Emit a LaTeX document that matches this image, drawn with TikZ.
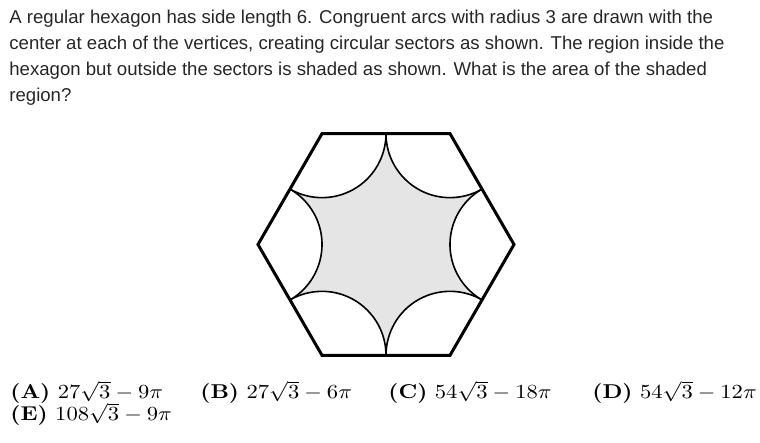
\documentclass[tikz,border=0pt]{standalone}
\usepackage{fontspec}
\newfontfamily\qfont{Liberation Sans}
\tikzset{
  qline/.style={anchor=base west, inner sep=0pt, font=\qfont\fontsize{9.3}{12}\selectfont, text=black!85},
  choice/.style={anchor=base west, inner sep=0pt, font=\fontsize{10}{12}\selectfont},
  hexline/.style={line width=1.5pt, line join=miter},
  arcline/.style={line width=0.8pt},
}
\newcommand{\wide}[1]{\scalebox{1.13}[1]{#1}}
\begin{document}
\begin{tikzpicture}[x=0.5pt,y=0.5pt]
\useasboundingbox (0,0) rectangle (760,443);

% question text
\node[qline] (q1) at (9,419) {A regular hexagon has side length 6. Congruent arcs with radius 3 are drawn with the};
\node[qline] (q2) at (9,393) {center at each of the vertices, creating circular sectors as shown. The region inside the};
\node[qline] (q3) at (9,367) {hexagon but outside the sectors is shaded as shown. What is the area of the shaded};
\node[qline] (q4) at (9,341) {region?};

% hexagon
\coordinate (O) at (386,198.5);
\foreach \i in {0,...,5}
  \coordinate (V\i) at ([shift={(O)}]60*\i:128);

\fill[black!10] (V0) -- (V1) -- (V2) -- (V3) -- (V4) -- (V5) -- cycle;
\foreach \i in {0,...,5}
  \fill[white] (V\i) -- ([shift={(V\i)}]60*\i+120:64) arc (60*\i+120:60*\i+240:64) -- cycle;
\foreach \i in {0,...,5}
  \draw[arcline] ([shift={(V\i)}]60*\i+120:64) arc (60*\i+120:60*\i+240:64);
\draw[hexline] (V0) -- (V1) -- (V2) -- (V3) -- (V4) -- (V5) -- cycle;

% answer choices
\node[choice] (A) at (10,44) {\wide{\textbf{(A)} $27\sqrt{3}-9\pi$}};
\node[choice] (B) at (200,44) {\wide{\textbf{(B)} $27\sqrt{3}-6\pi$}};
\node[choice] (C) at (388,44) {\wide{\textbf{(C)} $54\sqrt{3}-18\pi$}};
\node[choice] (D) at (592,44) {\wide{\textbf{(D)} $54\sqrt{3}-12\pi$}};
\node[choice] (E) at (10,22) {\wide{\textbf{(E)} $108\sqrt{3}-9\pi$}};
\end{tikzpicture}
\end{document}
